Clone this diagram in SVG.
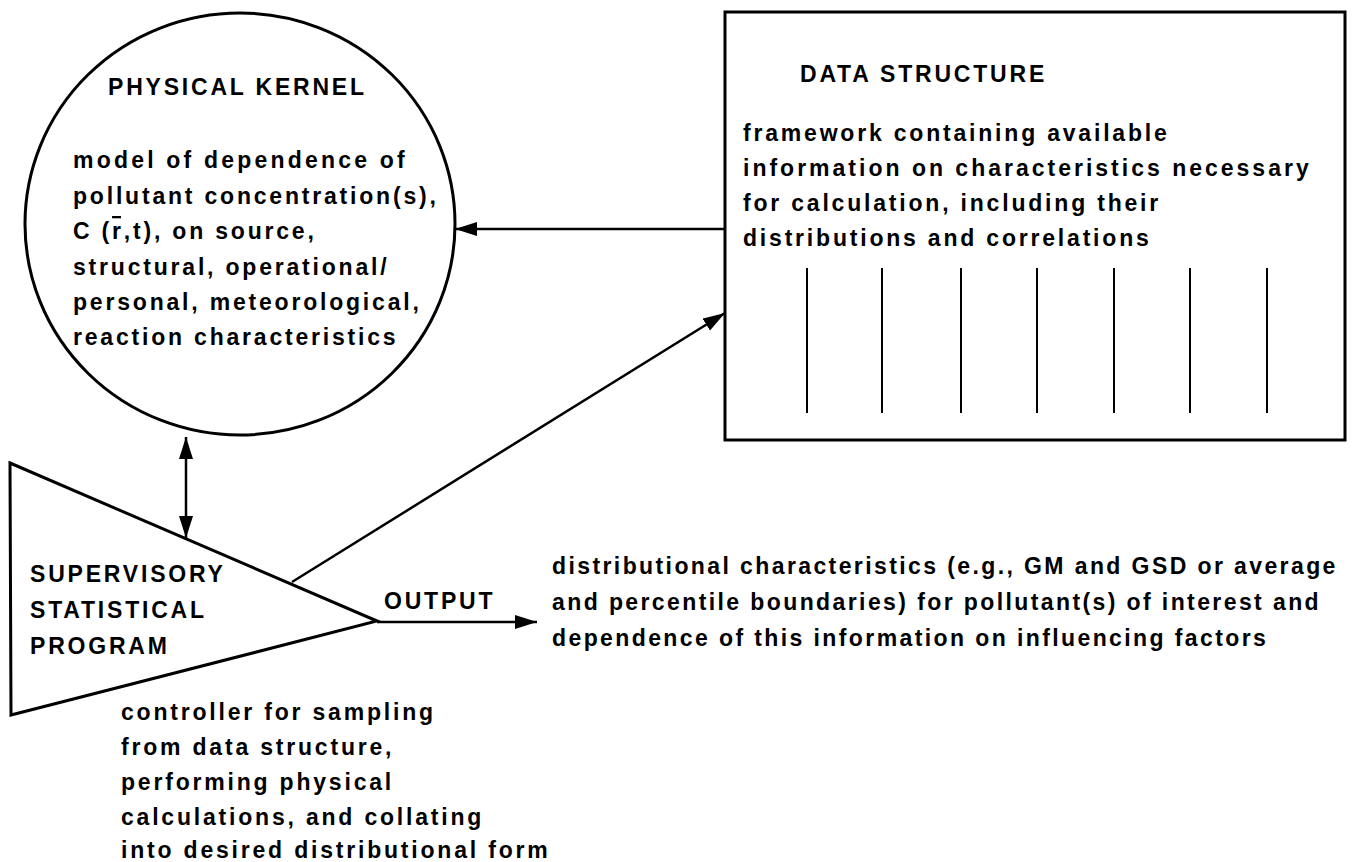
<svg xmlns="http://www.w3.org/2000/svg" width="1362" height="862" viewBox="0 0 1362 862">
<style>
text{font-family:"Liberation Sans",Arial,sans-serif;font-weight:bold;font-size:23px;fill:#000;letter-spacing:2.8px}
.out{letter-spacing:2.4px}
.bar{letter-spacing:0;text-decoration:overline}
.shape{fill:none;stroke:#000;stroke-width:3}
.conn{fill:none;stroke:#000;stroke-width:2.5}
.thin{fill:none;stroke:#000;stroke-width:2}
</style>
<defs>
<marker id="ah" markerUnits="userSpaceOnUse" markerWidth="24" markerHeight="16" refX="22" refY="7" orient="auto-start-reverse" viewBox="0 0 24 14">
<path d="M0,0 L22,7 L0,14 Z" fill="#000"/>
</marker>
</defs>
<rect width="1362" height="862" fill="#fff"/>
<g id="physical-kernel">
<ellipse class="shape" cx="240" cy="224" rx="215" ry="211"/>
<text x="108" y="95">PHYSICAL KERNEL</text>
<text x="73" y="168" style="letter-spacing:3.2px">model of dependence of</text>
<text x="73" y="203.5">pollutant concentration(s),</text>
<text x="73" y="239">C (<tspan class="bar">r</tspan><tspan dx="2.8">,t), on source,</tspan></text>
<text x="73" y="274.5">structural, operational/</text>
<text x="73" y="310">personal, meteorological,</text>
<text x="73" y="345">reaction characteristics</text>
</g>
<g id="data-structure">
<rect class="shape" x="725" y="12" width="620" height="428"/>
<text x="800" y="82">DATA STRUCTURE</text>
<text x="743" y="141">framework containing available</text>
<text x="743" y="176" style="letter-spacing:3px">information on characteristics necessary</text>
<text x="743" y="211">for calculation, including their</text>
<text x="743" y="246">distributions and correlations</text>
<g class="thin">
<line x1="807" y1="268" x2="807" y2="413"/>
<line x1="882" y1="268" x2="882" y2="413"/>
<line x1="961" y1="268" x2="961" y2="413"/>
<line x1="1037" y1="268" x2="1037" y2="413"/>
<line x1="1114" y1="268" x2="1114" y2="413"/>
<line x1="1190" y1="268" x2="1190" y2="413"/>
<line x1="1267" y1="268" x2="1267" y2="413"/>
</g>
</g>
<g id="supervisory-program">
<path class="shape" d="M10,463 L377,621 L11,715 Z"/>
<text x="30" y="582">SUPERVISORY</text>
<text x="30" y="618">STATISTICAL</text>
<text x="30" y="654">PROGRAM</text>
<text x="121" y="720">controller for sampling</text>
<text x="121" y="755">from data structure,</text>
<text x="121" y="790">performing physical</text>
<text x="121" y="825">calculations, and collating</text>
<text x="121" y="858">into desired distributional form</text>
</g>
<g id="output">
<text x="384" y="609">OUTPUT</text>
<text class="out" x="552" y="574">distributional characteristics (e.g., GM and GSD or average</text>
<text class="out" x="552" y="610">and percentile boundaries) for pollutant(s) of interest and</text>
<text class="out" x="552" y="646">dependence of this information on influencing factors</text>
</g>
<g id="connectors">
<line class="conn" x1="725" y1="229" x2="455" y2="229" marker-end="url(#ah)"/>
<line class="conn" x1="292" y1="582" x2="725" y2="313" marker-end="url(#ah)"/>
<line class="conn" x1="186" y1="437" x2="186" y2="538" marker-start="url(#ah)" marker-end="url(#ah)"/>
<line class="conn" x1="377" y1="622" x2="537" y2="622" marker-end="url(#ah)"/>
</g>
</svg>
